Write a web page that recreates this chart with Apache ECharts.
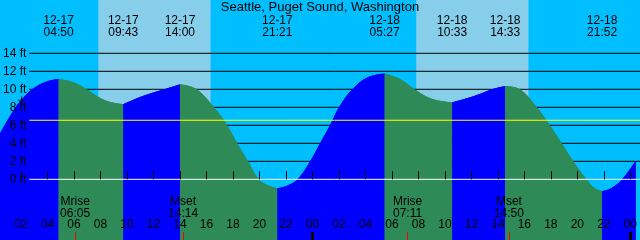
<!DOCTYPE html>
<html>
<head>
<meta charset="utf-8">
<script src="https://cdn.jsdelivr.net/npm/echarts@6/dist/echarts.min.js"></script>
<style>
html,body{margin:0;padding:0;background:#00BFFF;}
#chart{width:640px;height:240px;}
</style>
</head>
<body>
<div id="chart"></div>
<script>
// ---- data (hours counted from 12-17 00:00) ----
const title = "Seattle, Puget Sound, Washington";
const tideTimes   = [0.41, 0.785, 1.61, 2.04, 2.885, 3.9, 4.833, 5.9, 6.91, 7.9, 8.7, 9.717, 11.0, 12.0, 12.91, 14.0, 15.2, 16.535, 17.53, 18.28, 19.11, 19.91, 20.7, 21.35, 22.1, 22.91, 23.86, 24.61, 25.36, 26.04, 27.04, 28.2, 29.45, 30.6, 31.66, 33.0, 34.55, 36.2, 37.66, 38.55, 39.6, 40.91, 41.89, 42.79, 43.66, 44.66, 45.3, 45.867, 46.6, 47.41, 48.41];
const tideHeights = [5.0, 6.0, 8.0, 8.8, 10.0, 10.8, 11.1, 10.75, 10.0, 9.05, 8.55, 8.3, 9.1, 9.6, 10.0, 10.5, 10.0, 8.0, 6.0, 4.0, 2.0, 0.0, -0.75, -1.04, -0.75, 0.0, 2.0, 4.0, 6.0, 8.0, 10.0, 11.3, 11.7, 11.1, 10.0, 8.9, 8.5, 9.2, 10.0, 10.3, 10.0, 8.0, 6.0, 4.0, 2.0, 0.0, -1.0, -1.37, -1.0, 0.0, 2.0];
const extremaTimes = [4.833, 9.717, 14.0, 21.35, 29.45, 34.55, 38.55, 45.867];
const extremaDates = ["12-17", "12-17", "12-17", "12-17", "12-18", "12-18", "12-18", "12-18"];
const extremaClock = ["04:50", "09:43", "14:00", "21:21", "05:27", "10:33", "14:33", "21:52"];
const sunriseTimes = [7.835, 31.84];
const sunsetTimes  = [16.31, 40.31];
const moonTimes  = [6.083, 14.233, 31.183, 38.833];
const moonEvents = ["Mrise", "Mset", "Mrise", "Mset"];
const moonClock  = ["06:05", "14:14", "07:11", "14:50"];
const hourTicks  = [2, 4, 6, 8, 10, 12, 14, 16, 18, 20, 22, 24, 26, 28, 30, 32, 34, 36, 38, 40, 42, 44, 46, 48];
const midnightTicks = [24, 48];
const levelTicks = [0, 2, 4, 6, 8, 10, 12, 14];
const gridLevels = [2, 4, 6, 8, 10, 12, 14];
const meanSeaLevel = 6.56;
const datumLevel = 0;
const nowPoint = [2.04, 8.8];
const xMin = 0.41, xMax = 48.41;
const yMin = -6.74, yMax = 19.92;

// ---- chart ----
const FONT = "Liberation Sans";
const C = {night:"#00BFFF", day:"#87CEEB", flood:"#0000FF", ebb:"#2E8B57"};
const idx = (arr, v) => arr.findIndex(a => Math.abs(a - v) < 1e-6);

const series = [];
// layer 0: day shading and black level lines
sunriseTimes.forEach((s, i) => series.push({
  type:'line', xAxisIndex:0, yAxisIndex:0, zlevel:0, z:0, silent:true, symbol:'none',
  lineStyle:{width:0, opacity:0}, itemStyle:{color:C.day},
  areaStyle:{color:C.day, opacity:1, origin:'start'},
  data:[[s, yMax], [sunsetTimes[i], yMax]]
}));
gridLevels.forEach(v => series.push({
  type:'line', xAxisIndex:4, yAxisIndex:1, zlevel:0, z:1, silent:true, symbol:'none',
  lineStyle:{color:'#000', width:1}, data:[[0, v], [1, v]]
}));
// layer 1: the water, one piece per rising (flood) / falling (ebb) stretch
const bounds = [xMin - 1].concat(extremaTimes).concat([xMax + 1]);
for (let pass = 0; pass < 2; pass++) {
  for (let k = 0; k < bounds.length - 1; k++) {
    const seg = [];
    tideTimes.forEach((t, i) => {
      if (t >= bounds[k] - 1e-9 && t <= bounds[k+1] + 1e-9) seg.push([t, tideHeights[i]]);
    });
    const col = (k % 2 === 0) ? C.flood : C.ebb;
    series.push({
      type:'line', xAxisIndex:0, yAxisIndex:0, zlevel:1, z:2, smooth:0.4, symbol:'none', silent:true,
      lineStyle:{color:col, width:1, opacity:1}, itemStyle:{color:col},
      areaStyle:{color:col, opacity:1, origin:'start'},
      data: seg
    });
  }
}
// layer 2: mean sea level, datum, "now" cross
series.push({type:'line', xAxisIndex:4, yAxisIndex:1, zlevel:2, z:3, silent:true, symbol:'none',
  lineStyle:{color:'#FFFF00', width:1}, data:[[0, meanSeaLevel], [1, meanSeaLevel]]});
series.push({type:'line', xAxisIndex:4, yAxisIndex:1, zlevel:2, z:3, silent:true, symbol:'none',
  lineStyle:{color:'#FFFFFF', width:1}, data:[[0, datumLevel], [1, datumLevel]]});
series.push({type:'scatter', xAxisIndex:0, yAxisIndex:0, zlevel:2, z:4, silent:true,
  symbol:'path://M0,3.5L8,3.5L8,4.5L0,4.5Z M3.5,0L4.5,0L4.5,8L3.5,8Z', symbolSize:[8,7],
  itemStyle:{color:'#000', opacity:1}, data:[nowPoint]});

const chart = echarts.init(document.getElementById('chart'), null, {renderer:'canvas'});
const baseX = {type:'value', min:xMin, max:xMax, gridIndex:0, zlevel:2, z:10,
  axisLine:{show:false}, splitLine:{show:false}};
chart.setOption({
  animation:false,
  backgroundColor:C.night,
  title:{text:title, left:'center', top:0, padding:[1,0,0,0], zlevel:2, z:10,
    textStyle:{fontFamily:FONT, fontSize:13, fontWeight:'normal', color:'#000'}},
  grid:[
    {left:0, right:0, top:0, bottom:0},
    {left:29, right:0, top:0, bottom:0}
  ],
  xAxis:[
    Object.assign({}, baseX, {position:'bottom',
      axisTick:{show:true, inside:true, length:8, customValues:hourTicks, lineStyle:{color:'#000', width:1}},
      axisLabel:{show:true, inside:true, margin:9, customValues:hourTicks, fontFamily:FONT, fontSize:12, color:'#000',
        formatter:v => String(Math.round(v) % 24).padStart(2,'0')}}),
    Object.assign({}, baseX, {position:'bottom',
      axisTick:{show:true, inside:true, length:8, customValues:midnightTicks, lineStyle:{color:'#000', width:3}},
      axisLabel:{show:false, customValues:midnightTicks}}),
    Object.assign({}, baseX, {position:'bottom',
      axisTick:{show:true, inside:true, length:8, customValues:moonTimes, lineStyle:{color:'#FF0000', width:1}},
      axisLabel:{show:true, inside:true, margin:20, customValues:moonTimes, fontFamily:FONT, fontSize:12, color:'#000', lineHeight:12,
        formatter:v => { const i = idx(moonTimes, v); return moonEvents[i] + '\n' + moonClock[i]; }}}),
    Object.assign({}, baseX, {position:'top',
      axisTick:{show:false},
      axisLabel:{show:true, inside:true, margin:15, customValues:extremaTimes, fontFamily:FONT, fontSize:12, color:'#000', lineHeight:12,
        formatter:v => { const i = idx(extremaTimes, v); return extremaDates[i] + '\n' + extremaClock[i]; }}}),
    {type:'value', gridIndex:1, min:0, max:1, show:false}
  ],
  yAxis:[
    {type:'value', gridIndex:0, min:yMin, max:yMax, show:false, splitLine:{show:false}},
    {type:'value', gridIndex:1, position:'left', min:yMin, max:yMax, zlevel:2, z:10,
      axisLine:{show:false}, axisTick:{show:false}, splitLine:{show:false},
      axisLabel:{show:true, margin:3, customValues:levelTicks, fontFamily:FONT, fontSize:12, color:'#000',
        formatter:v => v + ' ft'}}
  ],
  series: series
});
</script>
</body>
</html>
